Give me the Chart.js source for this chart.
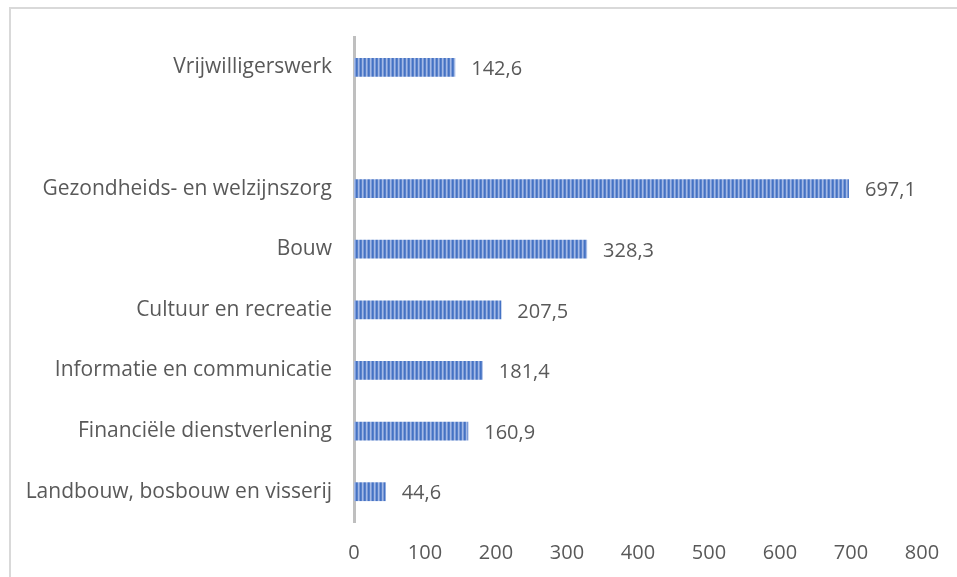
<!DOCTYPE html>
<html>
<head>
<meta charset="utf-8">
<script src="https://cdn.jsdelivr.net/npm/chart.js@4"></script>
<style>
  html, body { margin: 0; padding: 0; background: #fff; }
  #wrap { width: 957px; height: 577px; }
</style>
</head>
<body>
<div id="wrap"><canvas id="myChart" width="957" height="577"></canvas></div>
<script>
// data
const categories = [
  'Vrijwilligerswerk',
  '',
  'Gezondheids- en welzijnszorg',
  'Bouw',
  'Cultuur en recreatie',
  'Informatie en communicatie',
  'Financiële dienstverlening',
  'Landbouw, bosbouw en visserij'
];
const values = [142.6, null, 697.1, 328.3, 207.5, 181.4, 160.9, 44.6];
const xTicks = [0, 100, 200, 300, 400, 500, 600, 700, 800];

const textColor = '#595959';
const fontFamily = "'Open Sans', sans-serif";
const fontSize = 20;

// striped fill
function stripes() {
  const c = document.createElement('canvas');
  c.width = 4;
  c.height = 1;
  const g = c.getContext('2d');
  g.fillStyle = '#4472c4'; g.fillRect(0, 0, 1, 1);
  g.fillStyle = '#5a82ca'; g.fillRect(1, 0, 1, 1);
  g.fillStyle = '#a4bae6'; g.fillRect(2, 0, 1, 1);
  g.fillStyle = '#7d9bd8'; g.fillRect(3, 0, 1, 1);
  return document.getElementById('myChart').getContext('2d').createPattern(c, 'repeat');
}

// frame (top + left edge only)
const framePlugin = {
  id: 'frame',
  beforeDraw(chart) {
    const c = chart.ctx;
    c.save();
    c.fillStyle = '#d9d9d9';
    c.fillRect(9, 7, chart.width - 9, 2);
    c.fillRect(9, 7, 2, chart.height - 7);
    c.restore();
  }
};

// value labels next to bars
const valueLabels = {
  id: 'valueLabels',
  afterDatasetsDraw(chart) {
    const c = chart.ctx;
    const meta = chart.getDatasetMeta(0);
    c.save();
    c.font = fontSize + 'px ' + fontFamily;
    c.fillStyle = textColor;
    c.textAlign = 'left';
    c.textBaseline = 'middle';
    meta.data.forEach((bar, i) => {
      const v = values[i];
      if (v === null) return;
      c.fillText(v.toFixed(1).replace('.', ','), bar.x + 16, bar.y + 2);
    });
    c.restore();
  }
};

const ctx = document.getElementById('myChart').getContext('2d');
const myChart = new Chart(ctx, {
  type: 'bar',
  data: {
    labels: categories,
    datasets: [{
      data: values,
      backgroundColor: stripes(),
      borderWidth: 0,
      barPercentage: 0.31,
      categoryPercentage: 1
    }]
  },
  options: {
    indexAxis: 'y',
    responsive: false,
    animation: false,
    events: [],
    layout: {
      padding: { top: 37, left: 10, right: 35, bottom: 15 }
    },
    plugins: {
      legend: { display: false },
      tooltip: { enabled: false }
    },
    scales: {
      x: {
        min: 0,
        max: 800,
        afterBuildTicks(scale) {
          scale.ticks = xTicks.map(v => ({ value: v }));
        },
        afterFit(scale) {
          scale.height = 40;
        },
        grid: { display: false },
        border: { display: false },
        ticks: {
          color: textColor,
          padding: 11,
          maxRotation: 0,
          font: { family: fontFamily, size: fontSize }
        }
      },
      y: {
        afterFit(scale) {
          scale.width = 344;
        },
        grid: { display: false },
        border: { color: '#bfbfbf', width: 3 },
        ticks: {
          color: textColor,
          padding: 14,
          font: { family: fontFamily, size: 21 }
        }
      }
    }
  },
  plugins: [framePlugin, valueLabels]
});
</script>
</body>
</html>
